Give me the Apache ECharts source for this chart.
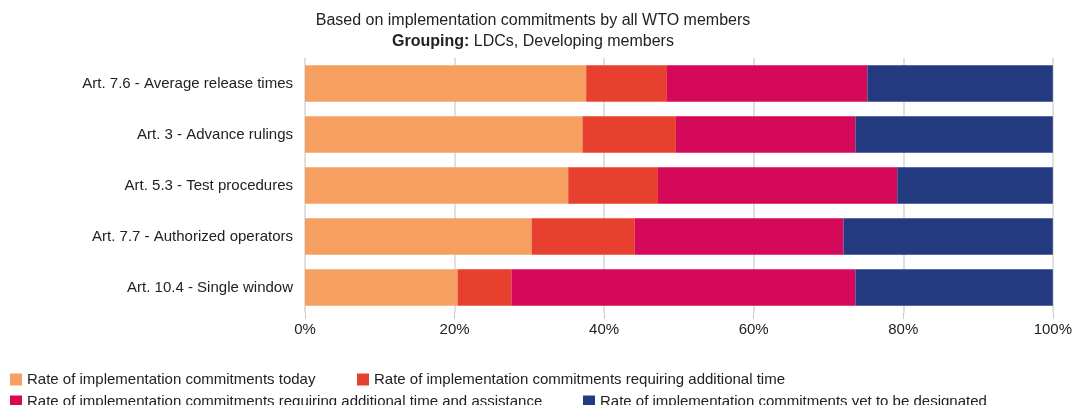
<!DOCTYPE html>
<html><head><meta charset="utf-8">
<script src="https://cdn.jsdelivr.net/npm/echarts@6/dist/echarts.min.js"></script>
<style>html,body{margin:0;padding:0;background:#fff}#c{width:1075px;height:405px}</style>
</head><body><div id="c"></div>
<script>
const categories = ["Art. 7.6 - Average release times","Art. 3 - Advance rulings","Art. 5.3 - Test procedures","Art. 7.7 - Authorized operators","Art. 10.4 - Single window"];
const seriesNames = ["Rate of implementation commitments today","Rate of implementation commitments requiring additional time","Rate of implementation commitments requiring additional time and assistance","Rate of implementation commitments yet to be designated"];
const today = [37.6, 37.1, 35.2, 30.3, 20.4];
const addTime = [10.8, 12.5, 12.0, 13.8, 7.2];
const addTimeAssist = [26.8, 24.0, 32.0, 27.9, 46.0];
const yetDesignated = [24.8, 26.4, 20.8, 28.0, 26.4];
const xTicks = [0, 20, 40, 60, 80, 100];
const colors = ["#F5A061","#E8402E","#D5095A","#233A80"];

const chart = echarts.init(document.getElementById('c'), null, {renderer:'canvas'});
const font = "'Liberation Sans', Arial, sans-serif";
const values = [today, addTime, addTimeAssist, yetDesignated];
const legendPos = [[5,367],[352,367],[5,389],[578,389]];
chart.setOption({
  animation:false,
  textStyle:{fontFamily:font},
  title:{
    text:"Based on implementation commitments by all WTO members",
    subtext:"{b|Grouping:} LDCs, Developing members",
    left:528, textAlign:'center', top:8,
    textStyle:{fontSize:16, fontWeight:'normal', color:'#222', fontFamily:font},
    subtextStyle:{fontSize:16, color:'#222', fontFamily:font, rich:{b:{fontWeight:'bold', fontSize:16, color:'#222', fontFamily:font}}},
    itemGap:5
  },
  legend: seriesNames.map((n,i)=>({
    left:legendPos[i][0], top:legendPos[i][1], itemWidth:12, itemHeight:12, icon:'rect',
    itemStyle:{borderWidth:0}, selectedMode:false,
    textStyle:{fontSize:15, color:'#222', fontFamily:font},
    data:[n]
  })),
  grid:{left:305, right:20, top:58, bottom:92, containLabel:false},
  xAxis:{
    type:'value', min:0, max:100, interval:20,
    axisLabel:{formatter:v=>v+'%', fontSize:15, color:'#222', margin:9, fontFamily:font},
    axisLine:{show:false},
    axisTick:{show:true, length:6, lineStyle:{color:'#ccc'}},
    splitLine:{show:true, lineStyle:{color:'#d6d6d6', width:1.5}}
  },
  yAxis:{
    type:'category', data:categories, inverse:true,
    axisLine:{show:false}, axisTick:{show:false},
    axisLabel:{fontSize:15, color:'#222', margin:12, fontFamily:font}
  },
  series: seriesNames.map((n,i)=>({
    name:n, type:'bar', stack:'s', data:values[i], barCategoryGap:'28%',
    itemStyle:{color:colors[i]}
  }))
});
</script></body></html>
